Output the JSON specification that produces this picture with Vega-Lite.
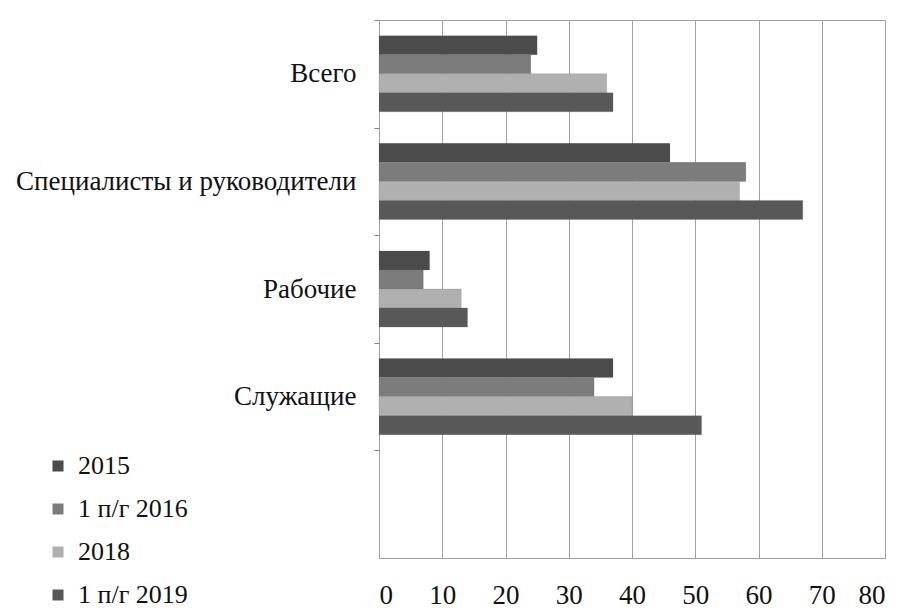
{
  "$schema": "https://vega.github.io/schema/vega-lite/v6.json",
  "width": 506,
  "height": 538,
  "autosize": {"type": "none"},
  "padding": {"left": 379, "top": 20, "right": 14, "bottom": 53},
  "background": "white",
  "config": {
    "font": "Liberation Serif",
    "view": {"stroke": "#a0a0a0", "strokeWidth": 1},
    "axis": {"labelFont": "Liberation Serif", "labelColor": "#111", "labelFontSize": 27, "titleFont": "Liberation Serif"},
    "legend": {"labelFont": "Liberation Serif", "labelFontSize": 26, "labelColor": "#111"}
  },
  "data": {
    "values": [
      {"category": "Всего", "series": "2015", "value": 25},
      {"category": "Всего", "series": "1 п/г 2016", "value": 24},
      {"category": "Всего", "series": "2018", "value": 36},
      {"category": "Всего", "series": "1 п/г 2019", "value": 37},
      {"category": "Специалисты и руководители", "series": "2015", "value": 46},
      {"category": "Специалисты и руководители", "series": "1 п/г 2016", "value": 58},
      {"category": "Специалисты и руководители", "series": "2018", "value": 57},
      {"category": "Специалисты и руководители", "series": "1 п/г 2019", "value": 67},
      {"category": "Рабочие", "series": "2015", "value": 8},
      {"category": "Рабочие", "series": "1 п/г 2016", "value": 7},
      {"category": "Рабочие", "series": "2018", "value": 13},
      {"category": "Рабочие", "series": "1 п/г 2019", "value": 14},
      {"category": "Служащие", "series": "2015", "value": 37},
      {"category": "Служащие", "series": "1 п/г 2016", "value": 34},
      {"category": "Служащие", "series": "2018", "value": 40},
      {"category": "Служащие", "series": "1 п/г 2019", "value": 51}
    ]
  },
  "mark": {"type": "bar", "stroke": "#666", "strokeWidth": 0.5, "strokeOpacity": 0.4},
  "encoding": {
    "y": {
      "field": "category",
      "type": "nominal",
      "scale": {"domain": ["Всего", "Специалисты и руководители", "Рабочие", "Служащие", " "], "paddingInner": 0.293, "paddingOuter": 0.146},
      "axis": {
        "title": null,
        "domainColor": "#a0a0a0",
        "tickColor": "#808080",
        "tickSize": 5,
        "tickOffset": -53.75,
        "labelOffset": 53.75,
        "labelPadding": 18,
        "labelLimit": 400
      }
    },
    "yOffset": {
      "field": "series",
      "type": "nominal",
      "sort": ["2015", "1 п/г 2016", "2018", "1 п/г 2019"],
      "scale": {"paddingInner": 0, "paddingOuter": 0}
    },
    "x": {
      "field": "value",
      "type": "quantitative",
      "scale": {"domain": [0, 80], "nice": false},
      "axis": {
        "title": null,
        "values": [0, 10, 20, 30, 40, 50, 60, 70, 80],
        "grid": true,
        "gridColor": "#a0a0a0",
        "gridOpacity": 1,
        "domainColor": "#a0a0a0",
        "ticks": false,
        "labelPadding": 24
      }
    },
    "color": {
      "field": "series",
      "type": "nominal",
      "sort": ["2015", "1 п/г 2016", "2018", "1 п/г 2019"],
      "scale": {"domain": ["2015", "1 п/г 2016", "2018", "1 п/г 2019"], "range": ["#4b4b4b", "#7c7c7c", "#b0b0b0", "#585858"]},
      "legend": {
        "title": null,
        "orient": "none",
        "legendX": -334,
        "legendY": 433,
        "padding": 0,
        "symbolType": "square",
        "symbolSize": 121,
        "symbolStrokeWidth": 0,
        "labelOffset": 7,
        "rowPadding": 17
      }
    }
  }
}
